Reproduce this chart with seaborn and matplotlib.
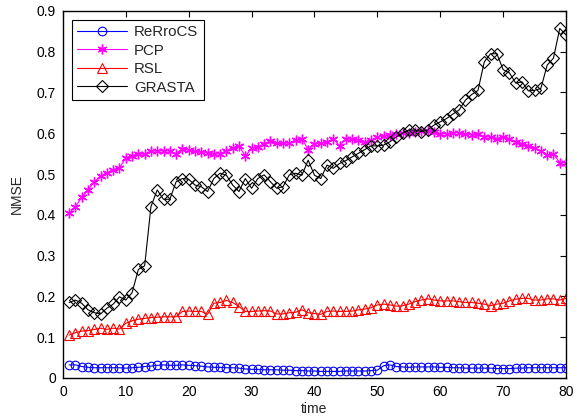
import numpy as np
import pandas as pd
import matplotlib
matplotlib.use("Agg")
import matplotlib.pyplot as plt
import seaborn as sns

# time axis
t = list(range(1, 81))

rerrocs = [0.032, 0.032, 0.028, 0.026, 0.025, 0.025, 0.025, 0.025, 0.025, 0.024,
           0.025, 0.026, 0.028, 0.029, 0.031, 0.032, 0.031, 0.031, 0.032, 0.031,
           0.030, 0.029, 0.027, 0.026, 0.026, 0.025, 0.025, 0.024, 0.022, 0.021,
           0.021, 0.020, 0.020, 0.020, 0.019, 0.019, 0.018, 0.018, 0.017, 0.017,
           0.016, 0.016, 0.016, 0.016, 0.017, 0.017, 0.017, 0.017, 0.018, 0.019,
           0.030, 0.032, 0.028, 0.027, 0.026, 0.027, 0.027, 0.027, 0.027, 0.026,
           0.026, 0.025, 0.025, 0.024, 0.024, 0.024, 0.024, 0.024, 0.023, 0.023,
           0.023, 0.024, 0.024, 0.025, 0.025, 0.025, 0.025, 0.025, 0.025, 0.025]

pcp = [0.404, 0.420, 0.443, 0.461, 0.481, 0.496, 0.503, 0.511, 0.515, 0.539,
       0.545, 0.548, 0.549, 0.557, 0.556, 0.557, 0.557, 0.549, 0.562, 0.558,
       0.556, 0.555, 0.552, 0.549, 0.550, 0.557, 0.565, 0.569, 0.544, 0.563,
       0.567, 0.574, 0.582, 0.575, 0.575, 0.576, 0.583, 0.587, 0.560, 0.574,
       0.576, 0.579, 0.587, 0.569, 0.587, 0.585, 0.583, 0.579, 0.583, 0.591,
       0.593, 0.596, 0.598, 0.601, 0.601, 0.604, 0.605, 0.605, 0.604, 0.598,
       0.599, 0.601, 0.601, 0.599, 0.596, 0.597, 0.592, 0.590, 0.587, 0.592,
       0.585, 0.579, 0.574, 0.569, 0.563, 0.557, 0.547, 0.549, 0.528, 0.528]

rsl = [0.105, 0.111, 0.115, 0.116, 0.119, 0.122, 0.119, 0.122, 0.120, 0.134,
       0.140, 0.144, 0.146, 0.148, 0.149, 0.150, 0.150, 0.150, 0.163, 0.164,
       0.163, 0.163, 0.156, 0.183, 0.185, 0.190, 0.185, 0.175, 0.163, 0.163,
       0.164, 0.165, 0.164, 0.157, 0.157, 0.160, 0.161, 0.167, 0.160, 0.158,
       0.156, 0.163, 0.164, 0.163, 0.163, 0.164, 0.167, 0.169, 0.172, 0.179,
       0.181, 0.179, 0.176, 0.177, 0.181, 0.187, 0.191, 0.194, 0.191, 0.189,
       0.189, 0.189, 0.187, 0.185, 0.185, 0.183, 0.181, 0.177, 0.181, 0.183,
       0.189, 0.193, 0.195, 0.195, 0.191, 0.191, 0.194, 0.194, 0.191, 0.195]

grasta = [0.185, 0.191, 0.183, 0.167, 0.160, 0.157, 0.171, 0.181, 0.199, 0.191,
          0.209, 0.266, 0.275, 0.420, 0.461, 0.438, 0.438, 0.481, 0.489, 0.487,
          0.473, 0.469, 0.457, 0.489, 0.502, 0.497, 0.473, 0.457, 0.489, 0.465,
          0.489, 0.498, 0.481, 0.465, 0.469, 0.498, 0.502, 0.497, 0.534, 0.497,
          0.489, 0.522, 0.514, 0.526, 0.533, 0.542, 0.551, 0.560, 0.569, 0.569,
          0.571, 0.579, 0.591, 0.600, 0.608, 0.608, 0.604, 0.608, 0.620, 0.628,
          0.636, 0.647, 0.657, 0.681, 0.695, 0.705, 0.775, 0.795, 0.795, 0.756,
          0.748, 0.723, 0.726, 0.704, 0.705, 0.710, 0.767, 0.784, 0.857, 0.841]

sns.set_style("white")
plt.rcParams['font.family'] = ['Liberation Sans', 'DejaVu Sans']
plt.rcParams['font.size'] = 9.5

fig = plt.figure(figsize=(5.77, 4.19), dpi=100)
ax = fig.add_axes([0.109, 0.098, 0.872, 0.876])

lw = 0.8
asterisk = (6, 2, 0)  # matlab style '*'
sns.lineplot(x=t, y=rerrocs, ax=ax, color='blue', lw=lw, marker='o', ms=6.2,
             markerfacecolor='none', markeredgecolor='blue', mew=0.8, label='ReRroCS')
sns.lineplot(x=t, y=pcp, ax=ax, color='magenta', lw=lw, marker=asterisk, ms=7,
             markerfacecolor='magenta', markeredgecolor='magenta', mew=1.0, label='PCP')
sns.lineplot(x=t, y=rsl, ax=ax, color='red', lw=lw, marker='^', ms=7,
             markerfacecolor='none', markeredgecolor='red', mew=0.8, label='RSL')
sns.lineplot(x=t, y=grasta, ax=ax, color='black', lw=lw, marker='D', ms=6,
             markerfacecolor='none', markeredgecolor='black', mew=0.8, label='GRASTA')

ax.set_xlim(0, 80)
ax.set_ylim(0, 0.9)
ax.set_xticks(range(0, 81, 10))
ax.set_yticks(np.arange(0, 0.91, 0.1))
ax.set_yticklabels(['0', '0.1', '0.2', '0.3', '0.4', '0.5', '0.6', '0.7', '0.8', '0.9'])
ax.tick_params(direction='in', top=True, right=True, length=4, width=0.8, labelsize=10,
               colors='black', pad=5)
for s in ax.spines.values():
    s.set_color('black')
    s.set_linewidth(1.0)
ax.set_xlabel('time', fontsize=10, labelpad=2)
ax.set_ylabel('NMSE', fontsize=10, labelpad=9)

leg = ax.legend(loc='upper left', bbox_to_anchor=(0.0, 1.0), borderaxespad=0.6,
                fancybox=False, framealpha=1, edgecolor='black', fontsize=10.8,
                handlelength=3.3, labelspacing=0.3, borderpad=0.35, handletextpad=0.5)
leg.get_frame().set_linewidth(0.8)

fig.savefig('out.png', dpi=100)
